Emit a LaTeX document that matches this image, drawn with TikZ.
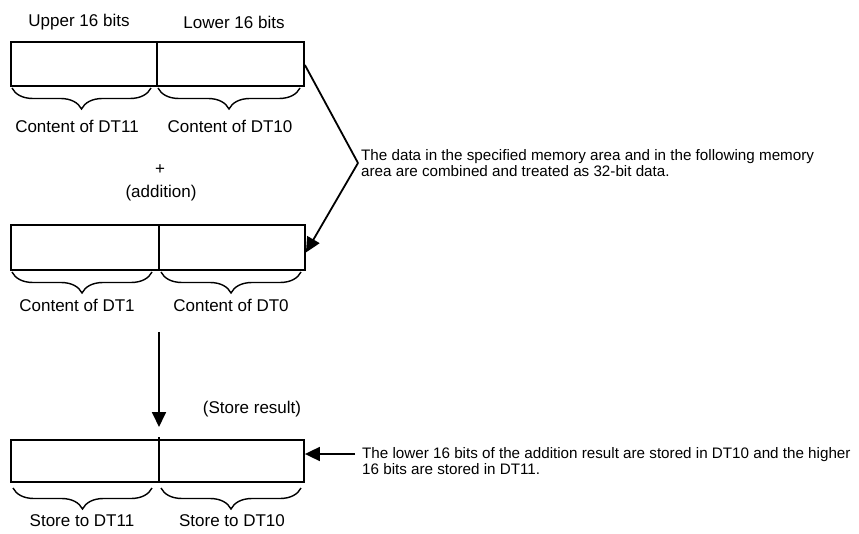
\documentclass[tikz,border=0pt]{standalone}
\usepackage{fontspec}
\setmainfont{Liberation Sans}
\usetikzlibrary{arrows.meta,decorations.pathreplacing}
\begin{document}
\begin{tikzpicture}[x=1pt,y=-1pt,
  membox/.style={draw, line width=1.8pt, rectangle, inner sep=0pt},
  divider/.style={line width=1.2pt},
  brc/.style={decorate, decoration={brace, mirror, amplitude=21pt}, line width=1.4pt},
  lbl/.style={font=\fontsize{17}{20}\selectfont, inner sep=0pt},
  note/.style={font=\fontsize{15.2}{16}\selectfont, inner sep=0pt, anchor=west, align=left},
  conn/.style={line width=1.8pt},
  arr/.style={line width=1.8pt, -{Triangle[length=15pt,width=14pt]}}]
\useasboundingbox (0,0) rectangle (859,534);

% box 1
\node[membox, minimum width=293pt, minimum height=44pt] (b1) at (157.5,64) {};
\draw[divider] (157,42) -- (157,86);
\node[lbl] (u1) at (79,22) {Upper 16 bits};
\node[lbl] (l1) at (234,22) {Lower 16 bits};
\draw[brc] (12,88) -- (151,88);
\draw[brc] (158,88) -- (300,88);
\node[lbl] (c11) at (77,126) {Content of DT11};
\node[lbl] (c10) at (230,126) {Content of DT10};

% addition
\node[lbl] (plus) at (160,170) {+};
\node[lbl] (add) at (161,193) {(addition)};

% box 2
\node[membox, minimum width=294pt, minimum height=45pt] (b2) at (158,247.5) {};
\draw[divider] (159,225) -- (159,270);
\draw[brc] (12,272) -- (152,272);
\draw[brc] (161,272) -- (301,272);
\node[lbl] (c1) at (77,305) {Content of DT1};
\node[lbl] (c0) at (231,305) {Content of DT0};

% note 1 and connector
\node[note] (n1) at (361,163) {The data in the specified memory area and in the following memory\\area are combined and treated as 32-bit data.};
\coordinate (bend) at ([xshift=-3pt]n1.west);
\draw[conn] ([yshift=-1pt]b1.east) -- (bend);
\draw[arr] (bend) -- ([yshift=-5pt]b2.east);

% vertical arrow
\coordinate (a0) at (159,332);
\coordinate (a1) at (159,427);
\draw[arr] (a0) -- (a1);
\node[lbl] (sr) at (252,409) {(Store result)};

% box 3
\node[membox, minimum width=293pt, minimum height=42pt] (b3) at (157.5,461) {};
\draw[divider] (159,437) -- (159,482);
\draw[brc] (13,488) -- (152,488);
\draw[brc] (161,488) -- (301,488);
\node[lbl] (s11) at (82,521) {Store to DT11};
\node[lbl] (s10) at (232,521) {Store to DT10};

% note 2 and arrow
\node[note] (n2) at (362,461) {The lower 16 bits of the addition result are stored in DT10 and the higher\\16 bits are stored in DT11.};
\coordinate (a2) at (355,454);
\draw[arr] (a2) -- (b3.east |- a2);
\end{tikzpicture}
\end{document}
